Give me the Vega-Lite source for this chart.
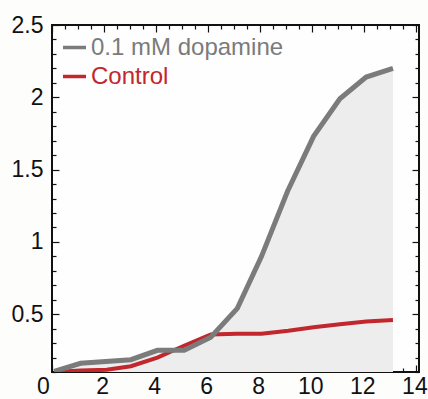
{
  "$schema": "https://vega.github.io/schema/vega-lite/v6.json",
  "width": 367,
  "height": 347,
  "autosize": "none",
  "padding": {"left": 52, "top": 25, "right": 9, "bottom": 27},
  "background": "#fdfdfc",
  "config": {
    "view": {"stroke": "#111111", "strokeWidth": 2, "fill": "#fefefe"},
    "axis": {
      "title": null,
      "domain": false,
      "grid": false,
      "tickColor": "#111111",
      "tickWidth": 1.2,
      "labelFont": "Liberation Sans",
      "labelFontSize": 23,
      "labelColor": "#111111",
      "labelOverlap": false,
      "labelFlush": false
    }
  },
  "data": {
    "values": [
      {"series": "0.1 mM dopamine", "hour": 0.08, "value": 0.105},
      {"series": "0.1 mM dopamine", "hour": 1.1, "value": 0.16},
      {"series": "0.1 mM dopamine", "hour": 3.03, "value": 0.185},
      {"series": "0.1 mM dopamine", "hour": 4.05, "value": 0.25},
      {"series": "0.1 mM dopamine", "hour": 5.08, "value": 0.25},
      {"series": "0.1 mM dopamine", "hour": 6.1, "value": 0.34},
      {"series": "0.1 mM dopamine", "hour": 7.12, "value": 0.54},
      {"series": "0.1 mM dopamine", "hour": 8.05, "value": 0.9},
      {"series": "0.1 mM dopamine", "hour": 9.05, "value": 1.35},
      {"series": "0.1 mM dopamine", "hour": 10.05, "value": 1.73},
      {"series": "0.1 mM dopamine", "hour": 11.06, "value": 1.99},
      {"series": "0.1 mM dopamine", "hour": 12.07, "value": 2.14},
      {"series": "0.1 mM dopamine", "hour": 13.1, "value": 2.2},
      {"series": "Control", "hour": 0.08, "value": 0.1},
      {"series": "Control", "hour": 1.1, "value": 0.11},
      {"series": "Control", "hour": 2.1, "value": 0.115},
      {"series": "Control", "hour": 3.03, "value": 0.14},
      {"series": "Control", "hour": 4.05, "value": 0.2},
      {"series": "Control", "hour": 5.05, "value": 0.28},
      {"series": "Control", "hour": 6.1, "value": 0.36},
      {"series": "Control", "hour": 7.1, "value": 0.365},
      {"series": "Control", "hour": 8.05, "value": 0.365},
      {"series": "Control", "hour": 9.08, "value": 0.385},
      {"series": "Control", "hour": 10.05, "value": 0.41},
      {"series": "Control", "hour": 11.06, "value": 0.43},
      {"series": "Control", "hour": 12.07, "value": 0.45},
      {"series": "Control", "hour": 13.1, "value": 0.46}
    ]
  },
  "layer": [
    {
      "transform": [{"filter": "datum.series === '0.1 mM dopamine'"}],
      "mark": {"type": "area", "color": "#ededed", "clip": true},
      "encoding": {
        "x": {
          "field": "hour", "type": "quantitative",
          "scale": {"domain": [0, 14.1], "nice": false, "zero": false},
          "axis": {
            "orient": "bottom",
            "values": [0,0.5,1,1.5,2,2.5,3,3.5,4,4.5,5,5.5,6,6.5,7,7.5,8,8.5,9,9.5,10,10.5,11,11.5,12,12.5,13,13.5,14],
            "tickSize": {"condition": {"test": "datum.value % 2 === 0", "value": -7}, "value": -4},
            "labelExpr": "datum.value % 2 === 0 ? format(datum.value, 'd') : ''",
            "labelPadding": 10,
            "labelOffset": {"condition": {"test": "datum.value === 0", "value": -9}, "value": -2}
          }
        },
        "y": {
          "field": "value", "type": "quantitative",
          "scale": {"domain": [0.1, 2.5], "nice": false, "zero": false},
          "axis": {
            "orient": "left",
            "values": [0.1,0.2,0.3,0.4,0.5,0.6,0.7,0.8,0.9,1,1.1,1.2,1.3,1.4,1.5,1.6,1.7,1.8,1.9,2,2.1,2.2,2.3,2.4,2.5],
            "tickSize": {"condition": {"test": "abs(datum.value*2 - round(datum.value*2)) < 0.000001", "value": -7}, "value": -4},
            "labelExpr": "abs(datum.value*2 - round(datum.value*2)) < 0.000001 ? format(datum.value, '~g') : ''",
            "labelPadding": 16
          }
        }
      }
    },
    {
      "transform": [{"filter": "datum.series === 'Control'"}],
      "mark": {"type": "line", "strokeWidth": 4, "clip": true},
      "encoding": {
        "x": {
          "field": "hour", "type": "quantitative",
          "axis": {
            "orient": "top",
            "values": [0,0.5,1,1.5,2,2.5,3,3.5,4,4.5,5,5.5,6,6.5,7,7.5,8,8.5,9,9.5,10,10.5,11,11.5,12,12.5,13,13.5,14],
            "tickSize": {"condition": {"test": "datum.value % 2 === 0", "value": -7}, "value": -4},
            "labels": false
          }
        },
        "y": {
          "field": "value", "type": "quantitative",
          "axis": {
            "orient": "right",
            "values": [0.1,0.2,0.3,0.4,0.5,0.6,0.7,0.8,0.9,1,1.1,1.2,1.3,1.4,1.5,1.6,1.7,1.8,1.9,2,2.1,2.2,2.3,2.4,2.5],
            "tickSize": {"condition": {"test": "abs(datum.value*2 - round(datum.value*2)) < 0.000001", "value": -7}, "value": -4},
            "labels": false
          }
        },
        "color": {
          "field": "series", "type": "nominal",
          "scale": {"domain": ["0.1 mM dopamine", "Control"], "range": ["#7b7b7b", "#c1272d"]},
          "legend": {
            "title": null,
            "orient": "none",
            "legendX": 9,
            "legendY": 9,
            "symbolType": "stroke",
            "symbolSize": 529,
            "symbolStrokeWidth": 3.5,
            "labelFont": "Liberation Sans",
            "labelFontSize": 24,
            "labelOffset": 3,
            "rowPadding": 3,
            "padding": 0,
            "labelLimit": 400,
            "encode": {"labels": {"update": {"fill": {"scale": "color", "field": "value"}}}}
          }
        }
      }
    },
    {
      "transform": [{"filter": "datum.series === '0.1 mM dopamine'"}],
      "mark": {"type": "line", "strokeWidth": 5, "clip": true},
      "encoding": {
        "x": {"field": "hour", "type": "quantitative", "axis": null},
        "y": {"field": "value", "type": "quantitative", "axis": null},
        "color": {"field": "series", "type": "nominal"}
      }
    }
  ],
  "resolve": {"axis": {"x": "independent", "y": "independent"}}
}
